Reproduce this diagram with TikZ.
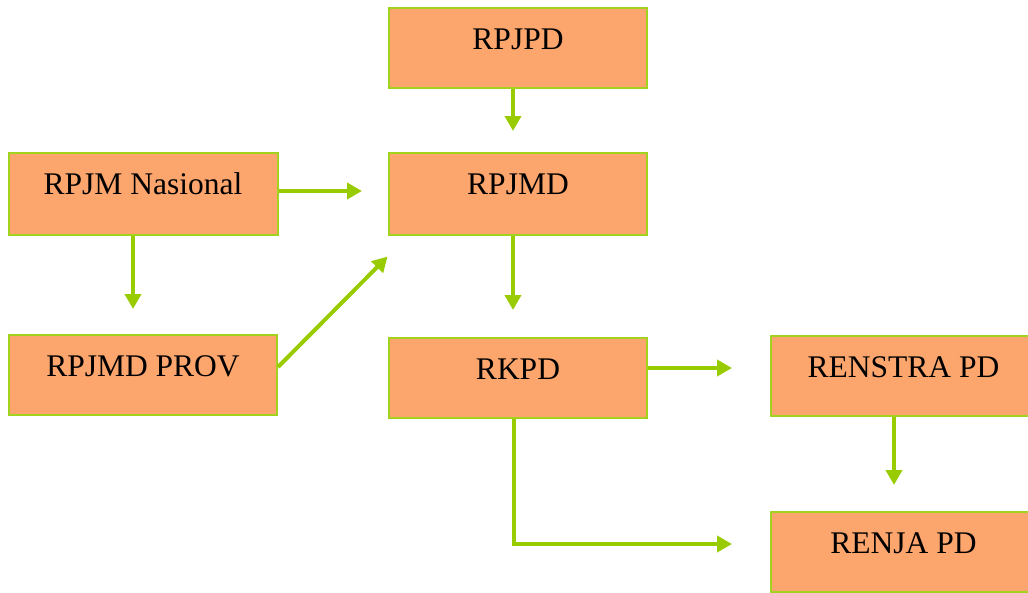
\documentclass[tikz,border=0pt]{standalone}
\usepackage{fontspec}
\setmainfont{Liberation Serif}
\usetikzlibrary{arrows.meta}

\definecolor{boxfill}{RGB}{252,166,110}
\definecolor{boxline}{RGB}{163,210,30}
\definecolor{arrgreen}{RGB}{153,204,0}

\begin{document}
\begin{tikzpicture}[x=1pt, y=-1pt, ->, >={Triangle[length=15pt,width=16pt]}, line width=4pt, arrgreen,
		box/.style={draw=boxline, fill=boxfill, line width=2pt, inner sep=0pt, text=black,
			text height=41pt, text depth=39pt, font=\fontsize{31.5}{36}\selectfont}]
		\useasboundingbox (0,0) rectangle (1028,592);
		
		\node[box, minimum width=258pt] (rpjpd) at (518,48) {RPJPD};
		\node[box, minimum width=269pt, text depth=41pt] (nasional) at (143,194) {RPJM Nasional};
		\node[box, minimum width=258pt, text depth=41pt] (rpjmd) at (518,194) {RPJMD};
		\node[box, minimum width=268pt] (prov) at (143,375) {RPJMD PROV};
		\node[box, minimum width=258pt] (rkpd) at (518,378) {RKPD};
		\node[box, minimum width=265pt] (renstra) at (903.5,376) {RENSTRA PD};
		\node[box, minimum width=265pt] (renja) at (903.5,552) {RENJA PD};
		
		\path ([xshift=-5pt]rpjpd.south) edge[shorten >=21pt] ([xshift=-5pt]rpjmd.north)
			([yshift=3pt]nasional.east) edge[shorten >=26pt] ([yshift=3pt]rpjmd.west)
			([xshift=-10pt]nasional.south) edge[shorten >=25pt] ([xshift=-10pt]prov.north)
			([yshift=8pt]prov.east) edge[shorten >=29pt] ([xshift=20pt]rpjmd.south west) % diagonal
			([xshift=-5pt]rpjmd.south) edge[shorten >=27pt] ([xshift=-5pt]rkpd.north)
			([yshift=10pt]rkpd.east) edge[shorten >=38pt] ([yshift=10pt]rkpd.east -| renstra.west)
			([xshift=-9.5pt]renstra.south) edge[shorten >=26pt] ([xshift=-9.5pt]renja.north);
		\draw[shorten >=38pt] ([xshift=-4pt]rkpd.south) |- ([yshift=8pt]renja.west);
	\end{tikzpicture}
\end{document}
